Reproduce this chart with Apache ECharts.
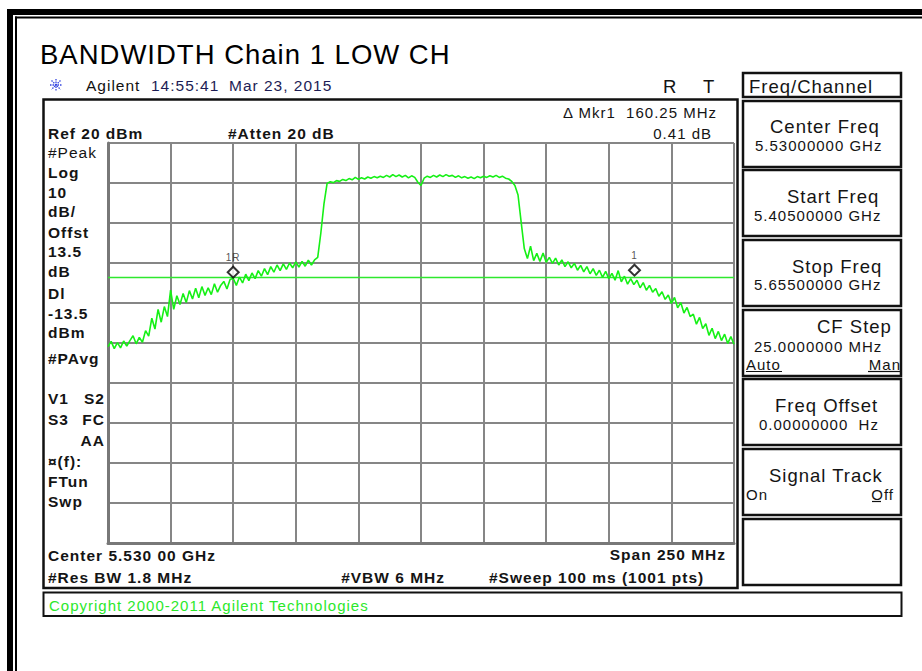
<!DOCTYPE html>
<html><head><meta charset="utf-8">
<script src="https://cdn.jsdelivr.net/npm/echarts@6/dist/echarts.min.js"></script>
<style>
html,body{margin:0;padding:0;background:#fff;}
#chart{width:922px;height:671px;}
#chart text{letter-spacing:1px;}
</style></head><body><div id="chart"></div>
<script>
// ---- data ----
const sweepStartMHz = 5405;      // 5.405 GHz
const sweepSpanMHz = 250;
const sweepStepMHz = 1.25;       // spacing of the read-off trace points
const refLevelDbm = 20;
const bottomLevelDbm = -80;
const dbPerDiv = 10;
const freqDivMHz = 25;
const traceDbm = [
 -30.9,-29.6,-31.4,-29.9,-31.2,-29.5,-30.8,-29.4,-28.2,-30.2,
 -28.6,-29.8,-26.9,-28.3,-23.8,-26.5,-21.6,-24.8,-20.9,-23.4,
 -16.8,-21.6,-18.2,-20.4,-17.6,-19.9,-16.9,-19.0,-16.3,-18.7,
 -15.9,-18.1,-16.2,-17.9,-15.2,-17.3,-15.6,-14.6,-16.5,-14.1,
 -13.8,-15.6,-13.5,-15.0,-12.8,-14.4,-12.5,-13.9,-11.9,-13.3,
 -11.4,-12.9,-10.9,-12.3,-10.5,-11.9,-10.2,-11.6,-10.0,-11.2,
 -9.7,-11.0,-9.6,-10.8,-9.3,-10.5,-9.2,-8.6,-2.5,4.8,
 9.9,10.3,10.1,10.6,10.4,10.9,10.6,11.1,10.8,11.4,
 10.9,11.3,11.0,11.5,11.2,11.6,11.3,11.7,11.4,11.9,
 11.5,12.1,11.6,12.0,11.5,11.9,11.3,11.8,11.4,10.2,
 9.4,11.2,11.7,11.4,11.9,11.5,12.0,11.6,12.1,11.7,
 11.9,11.4,11.8,11.3,11.6,11.2,11.5,11.1,11.6,11.3,
 11.7,11.4,11.8,11.5,11.9,11.4,11.7,11.2,11.0,10.4,
 9.4,7.0,0.2,-6.4,-8.9,-5.8,-9.4,-7.6,-9.6,-7.5,
 -9.8,-8.6,-10.1,-8.8,-10.5,-9.2,-10.9,-9.7,-11.2,-10.1,
 -11.8,-10.6,-12.2,-10.9,-12.7,-11.4,-13.1,-11.8,-13.6,-12.1,
 -13.9,-12.6,-14.3,-11.9,-14.7,-13.3,-15.3,-13.9,-15.4,-14.3,
 -16.2,-14.9,-16.8,-15.6,-17.3,-16.4,-18.3,-17.2,-19.1,-18.0,
 -20.1,-18.6,-21.2,-19.9,-22.5,-21.1,-23.4,-22.8,-25.3,-23.6,
 -26.4,-25.2,-28.1,-26.3,-28.9,-27.1,-29.4,-27.8,-30.1,-28.4,
 -30.3
];
const displayLineDbm = -13.5;
const markerOffsetMHz = [50, 210.25];
const markerDbm = [-12.3, -11.8];
const markerNames = ['1R', '1'];

// ---- helpers ----
const FONT = '"Liberation Sans", Arial, sans-serif';
function T(x, y, text, size, opt) {
  opt = opt || {};
  return {
    type: 'text', x: x, y: y, z: 50, silent: true,
    style: {
      text: text,
      font: (opt.bold ? 'bold ' : '') + size + 'px ' + FONT,
      fill: opt.fill || '#141414',
      align: opt.align || 'left', textAlign: opt.align || 'left',
      verticalAlign: 'middle', textVerticalAlign: 'middle'
    }
  };
}
function R(x, y, w, h, o) {
  return { type: 'rect', z: 40, silent: true, shape: { x: x, y: y, width: w, height: h },
    style: Object.assign({ fill: 'none', stroke: '#111', lineWidth: 2 }, o || {}) };
}
function L(x1, y1, x2, y2, o) {
  return { type: 'line', z: 45, silent: true, shape: { x1: x1, y1: y1, x2: x2, y2: y2 },
    style: Object.assign({ stroke: '#111', lineWidth: 1 }, o || {}) };
}

const g = [];
// outer frame
g.push(R(7, 9, 915, 6, { fill: '#000', stroke: 'none' }));
g.push(R(7, 9, 6, 662, { fill: '#000', stroke: 'none' }));
g.push(R(15, 16.5, 907, 2, { fill: '#000', stroke: 'none' }));
g.push(R(15, 16.5, 2, 655, { fill: '#000', stroke: 'none' }));
// title
g.push(T(40, 54, 'BANDWIDTH Chain 1 LOW CH', 27.5, { fill: '#000' }));
// Agilent logo (spark)
const lc = { stroke: '#3545e0', lineWidth: 1.3, lineDash: [1.5, 1] };
g.push(L(50, 85, 62, 85, lc)); g.push(L(56, 79, 56, 91, lc));
g.push(L(51.5, 80.5, 60.5, 89.5, lc)); g.push(L(60.5, 80.5, 51.5, 89.5, lc));
g.push(T(86, 85, 'Agilent', 15.5, { fill: '#111' }));
g.push(T(151, 85, '14:55:41', 15.5, { fill: '#1d1d55' }));
g.push(T(229, 85, 'Mar 23, 2015', 15.5, { fill: '#1d1d55' }));
g.push(T(663, 86, 'R', 18.5));
g.push(T(703, 86, 'T', 18.5));
// main screen boxes
g.push(R(43.5, 99.5, 694, 488.5, { lineWidth: 2.5 }));
g.push(R(43.5, 592.5, 858, 23.5, { lineWidth: 2 }));
g.push(T(49, 605, 'Copyright 2000-2011 Agilent Technologies', 15, { fill: '#2be82b' }));
// annotations in screen
g.push(T(717, 112, '\u0394 Mkr1  160.25 MHz', 15, { align: 'right' }));
g.push(T(712, 133, '0.41 dB', 15, { align: 'right' }));
g.push(T(48, 133, 'Ref 20 dBm', 15.5, { bold: true }));
g.push(T(228, 133, '#Atten 20 dB', 15.5, { bold: true }));
const leftLabels = [
  ['#Peak', 152, false], ['Log', 172, true], ['10', 192, true], ['dB/', 211, true],
  ['Offst', 232, true], ['13.5', 251, true], ['dB', 271, true], ['Dl', 293, true],
  ['-13.5', 313, true], ['dBm', 332, true], ['#PAvg', 358, true], ['V1', 398, true],
  ['S3', 419, true], ['\u00a4(f):', 461, true], ['FTun', 481, true], ['Swp', 501, true]
];
leftLabels.forEach(function (a) { g.push(T(48, a[1], a[0], 15.5, { bold: a[2] })); });
g.push(T(105, 398, 'S2', 15.5, { bold: true, align: 'right' }));
g.push(T(105, 419, 'FC', 15.5, { bold: true, align: 'right' }));
g.push(T(105, 440, 'AA', 15.5, { bold: true, align: 'right' }));
g.push(T(48, 555, 'Center 5.530 00 GHz', 15.5, { bold: true }));
g.push(T(726, 554, 'Span 250 MHz', 15.5, { bold: true, align: 'right' }));
g.push(T(48, 577, '#Res BW 1.8 MHz', 15.5, { bold: true }));
g.push(T(445, 577, '#VBW 6 MHz', 15.5, { bold: true, align: 'right' }));
g.push(T(489, 577, '#Sweep 100 ms (1001 pts)', 15.5, { bold: true }));
// right soft-key panel
g.push(R(743, 73, 158, 24, { lineWidth: 2.5 }));
g.push(T(749, 86, 'Freq/Channel', 18.5));
const boxTops = [101, 170, 240, 310, 379, 449, 519];
boxTops.forEach(function (y) { g.push(R(743, y, 158, 66, { lineWidth: 2.5 })); });
g.push(T(770, 126, 'Center Freq', 18.5));
g.push(T(755, 145, '5.53000000 GHz', 15));
g.push(T(787, 196, 'Start Freq', 18.5));
g.push(T(754, 215, '5.40500000 GHz', 15));
g.push(T(792, 266, 'Stop Freq', 18.5));
g.push(T(754, 284, '5.65500000 GHz', 15));
g.push(T(817, 326, 'CF Step', 18.5));
g.push(T(754, 346, '25.0000000 MHz', 15));
g.push(T(746, 364, 'Auto', 15));
g.push(T(901, 364, 'Man', 15, { align: 'right' }));
g.push(L(746, 371.5, 782, 371.5, { lineWidth: 1.2 }));
g.push(L(868, 371.5, 900, 371.5, { lineWidth: 1.2 }));
g.push(T(775, 405, 'Freq Offset', 18.5));
g.push(T(759, 424, '0.00000000  Hz', 15));
g.push(T(769, 475, 'Signal Track', 18.5));
g.push(T(746, 494, 'On', 15));
g.push(T(894, 494, 'Off', 15, { align: 'right' }));
g.push(L(872, 501.5, 881, 501.5, { lineWidth: 1.2 }));

// ---- chart ----
const traceData = traceDbm.map(function (v, i) { return [i * sweepStepMHz, v]; });
const markerData = markerOffsetMHz.map(function (f, i) {
  return { value: [f, markerDbm[i]], label: { formatter: markerNames[i] } };
});

const chart = echarts.init(document.getElementById('chart'), null, { renderer: 'svg' });
chart.setOption({
  animation: false,
  backgroundColor: '#fff',
  grid: { left: 108, top: 143, width: 626, height: 400, containLabel: false },
  xAxis: {
    type: 'value', min: 0, max: sweepSpanMHz, interval: freqDivMHz,
    axisLabel: { show: false }, axisTick: { show: false },
    axisLine: { show: true, onZero: false, lineStyle: { color: '#787878', width: 3 } },
    splitLine: { show: true, lineStyle: { color: '#868686', width: 2 } }
  },
  yAxis: {
    type: 'value', min: bottomLevelDbm, max: refLevelDbm, interval: dbPerDiv,
    axisLabel: { show: false }, axisTick: { show: false },
    axisLine: { show: true, onZero: false, lineStyle: { color: '#787878', width: 3 } },
    splitLine: { show: true, lineStyle: { color: '#868686', width: 2 } }
  },
  graphic: g,
  series: [
    {
      type: 'line', data: traceData, showSymbol: false, symbol: 'none', z: 5,
      lineStyle: { color: '#16f016', width: 1.6 },
      markLine: {
        silent: true, symbol: ['none', 'none'], label: { show: false },
        lineStyle: { color: '#2ee82e', width: 1.4, type: 'solid' },
        data: [{ yAxis: displayLineDbm }]
      }
    },
    {
      type: 'scatter', data: markerData, symbol: 'diamond', symbolSize: [11, 11], z: 8,
      itemStyle: { color: '#fff', borderColor: '#000', borderWidth: 2 },
      label: { show: true, position: 'top', distance: 3, fontSize: 10, color: '#2a1f1f',
        fontFamily: FONT }
    }
  ]
});
</script></body></html>
